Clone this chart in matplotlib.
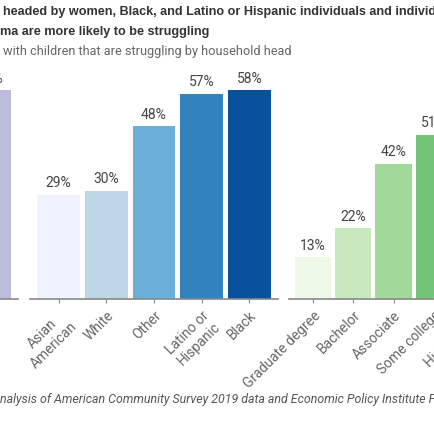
import matplotlib
matplotlib.use("Agg")
import matplotlib.pyplot as plt

# household head groups (only the visible part of the original wide chart)
gender_labels = ["Women"]
gender_values = [58]
gender_colors = ["#bcbddc"]

race_labels = ["Asian\nAmerican", "White", "Other", "Latino or\nHispanic", "Black"]
race_values = [29, 30, 48, 57, 58]
race_colors = ["#eff3ff", "#bdd7e7", "#6baed6", "#3182bd", "#08519c"]

edu_labels = ["Graduate degree", "Bachelor", "Associate", "Some college", "High school"]
edu_values = [13, 22, 42, 51, 60]
edu_colors = ["#edf8e9", "#c7e9c0", "#a1d99b", "#74c476", "#31a354"]

title_lines = ["headed by women, Black, and Latino or Hispanic individuals and individuals",
               "ma are more likely to be struggling"]
subtitle = "with children that are struggling by household head"
source = "nalysis of American Community Survey 2019 data and Economic Policy Institute Family Budget Calculator"

W = H = 435
fig = plt.figure(figsize=(W / 100, H / 100), dpi=100)


def px_axes(x0, x1, y_base, height):
    # axes rectangle given in pixels from the top-left corner
    return fig.add_axes([x0 / W, (H - y_base) / H, (x1 - x0) / W, height / H])


def draw_group(ax, labels, values, colors, ymax):
    xs = list(range(len(labels)))
    ax.bar(xs, values, width=0.9, color=colors)
    for x, v in zip(xs, values):
        ax.text(x, v + ymax * 0.022, f"{v}%", ha="center", va="bottom",
                fontsize=10, color="#444444", family="Roboto")
    ax.set_xlim(-0.6, len(labels) - 0.4)
    ax.set_ylim(0, ymax)
    ax.set_xticks(xs)
    ax.set_xticklabels(labels, rotation=45, ha="right", va="top",
                       rotation_mode="anchor", fontsize=10, color="#666666",
                       family="Roboto", multialignment="center")
    ax.tick_params(axis="x", length=3, width=0.8, color="#888888", pad=3)
    ax.set_yticks([])
    for s in ["top", "left", "right"]:
        ax.spines[s].set_visible(False)
    ax.spines["bottom"].set_color("#888888")
    ax.spines["bottom"].set_linewidth(1.2)
    ax.patch.set_alpha(0)


ax1 = px_axes(-36, 18, 300, 252)
draw_group(ax1, gender_labels, gender_values, gender_colors, 70)

ax2 = px_axes(30, 278, 300, 252)
draw_group(ax2, race_labels, race_values, race_colors, 70)

ax3 = px_axes(289, 289 + 40.2 * (len(edu_labels) + 0.2), 300, 252)
draw_group(ax3, edu_labels, edu_values, edu_colors, 78.3)

fig.text(3 / W, 1 - 12 / H, title_lines[0], ha="left", va="center",
         fontsize=9.1, fontweight="bold", color="#333333", family="Liberation Sans")
fig.text(0 / W, 1 - 32 / H, title_lines[1], ha="left", va="center",
         fontsize=9.1, fontweight="bold", color="#333333", family="Liberation Sans")
fig.text(3 / W, 1 - 52 / H, subtitle, ha="left", va="center",
         fontsize=9.15, color="#666666", family="Roboto")
fig.text(0 / W, 1 - 400 / H, source, ha="left", va="center",
         fontsize=8.9, style="italic", color="#555555", family="Roboto")

fig.savefig("out.png", dpi=100)
